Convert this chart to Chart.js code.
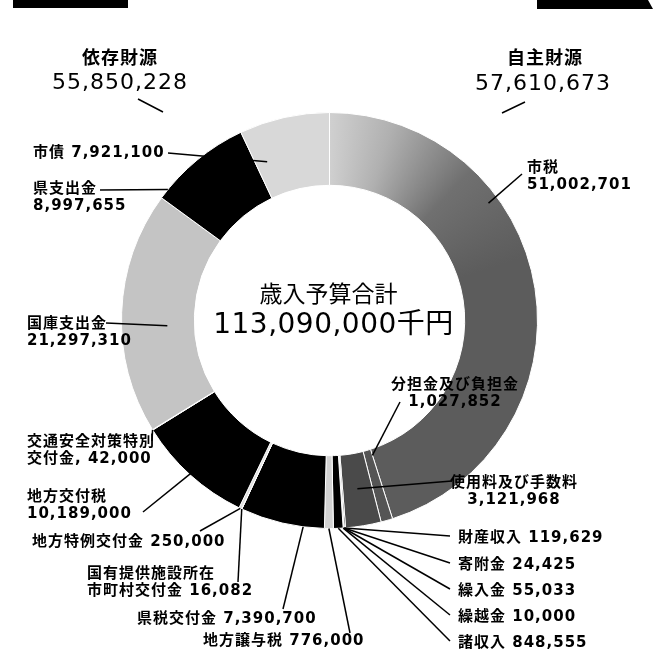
<!DOCTYPE html>
<html lang="ja">
<head>
<meta charset="UTF-8">
<title>歳入予算</title>
<style>
  html, body { margin: 0; padding: 0; background: #fff; }
  #wrap { width: 661px; height: 663px; }
</style>
</head>
<body>
<div id="wrap"><canvas id="budget-chart" width="661" height="663"></canvas></div>
<script src="https://cdn.jsdelivr.net/npm/chart.js@4.4.1/dist/chart.umd.min.js"></script>
<script>
// 歳入予算の内訳（千円）、時計回りに上から
var itemNames = ['市税', '分担金及び負担金', '使用料及び手数料', '財産収入', '寄附金', '繰入金', '繰越金', '諸収入',
    '地方譲与税', '県税交付金', '国有提供施設所在\n市町村交付金', '地方特例交付金', '地方交付税',
    '交通安全対策特別\n交付金,', '国庫支出金', '県支出金', '市債'];
var itemValues = [51002701, 1027852, 3121968, 119629, 24425, 55033, 10000, 848555,
    776000, 7390700, 16082, 250000, 10189000,
    42000, 21297310, 8997655, 7921100];

var groupNames = ['依存財源', '自主財源'];
var groupTotals = [55850228, 57610673];

var totalTitle = '歳入予算合計';
var totalValue = 113090000;
var totalUnit = '千円';

// fills (scan greys)
var itemColors = [null, '#555555', '#4a4a4a', '#000', '#000', '#000', '#000', '#000',
    '#d2d2d2', '#000', '#e0e0e0', '#e0e0e0', '#000',
    '#e0e0e0', '#c4c4c4', '#000', '#d8d8d8'];

// label placement: text anchor, leader line start, where on the slice it points (f = along arc, rf = radius factor)
var labelPos = [
    {x: 527, y: 168, align: 'left', br: true, from: [522, 174], f: 0.33, rf: 0.95},
    {x: 455, y: 385, align: 'center', br: true, from: [400, 402], f: 0.0, rf: 0.68},
    {x: 514, y: 483, align: 'center', br: true, from: [452, 481], f: 0.5, rf: 0.82},
    {x: 458, y: 538, align: 'left', br: false, from: [450, 536], f: 0.5, rf: 1},
    {x: 458, y: 565, align: 'left', br: false, from: [450, 563], f: 0.5, rf: 1},
    {x: 458, y: 591, align: 'left', br: false, from: [450, 589], f: 0.5, rf: 1},
    {x: 458, y: 617, align: 'left', br: false, from: [450, 615], f: 0.5, rf: 1},
    {x: 458, y: 643, align: 'left', br: false, from: [450, 641], f: 0.5, rf: 1},
    {x: 203, y: 641, align: 'left', br: false, from: [350, 633], f: 0.5, rf: 1},
    {x: 137, y: 619, align: 'left', br: false, from: [283, 609], f: 0.25, rf: 1},
    {x: 87, y: 574, align: 'left', br: false, from: [238, 582], f: 0.5, rf: 1},
    {x: 32, y: 542, align: 'left', br: false, from: [200, 531], f: 0.5, rf: 1},
    {x: 27, y: 497, align: 'left', br: true, from: [143, 512], f: 0.5, rf: 0.97},
    {x: 27, y: 442, align: 'left', br: false, from: [152, 441], f: 0.5, rf: 1},
    {x: 27, y: 324, align: 'left', br: true, from: [106, 323], f: 0.44, rf: 0.78},
    {x: 33, y: 189, align: 'left', br: true, from: [100, 190], f: 0.1, rf: 1},
    {x: 33, y: 153, align: 'left', br: false, from: [168, 153], f: 0.15, rf: 0.82}
];

function fmt(v) { return v.toLocaleString('en-US'); }

function shizeiFill(c) {
    var ch = c.chart, a = ch.chartArea;
    if (!a) return '#777';
    var cx = (a.left + a.right) / 2, cy = (a.top + a.bottom) / 2;
    var g = ch.ctx.createConicGradient(-Math.PI / 2, cx, cy);
    g.addColorStop(0, '#d0d0d0');
    g.addColorStop(0.05, '#b0b0b0');
    g.addColorStop(0.12, '#707070');
    g.addColorStop(0.2, '#5c5c5c');
    g.addColorStop(1, '#5c5c5c');
    return g;
}

var labelFont = 'bold 15px "DejaVu Sans", "Noto Sans CJK JP"';

var annotate = {
    id: 'annotate',
    afterDatasetsDraw: function (chart) {
        var ctx = chart.ctx;
        var meta = chart.getDatasetMeta(0);
        ctx.save();

        // header bars from the page scan
        ctx.fillStyle = '#000';
        ctx.fillRect(13, 0, 115, 8);
        ctx.beginPath();
        ctx.moveTo(537, 0); ctx.lineTo(648, 0); ctx.lineTo(653, 9); ctx.lineTo(537, 9);
        ctx.closePath(); ctx.fill();

        // leader lines
        ctx.strokeStyle = '#000';
        ctx.lineWidth = 1.5;
        meta.data.forEach(function (arc, i) {
            var p = arc.getProps(['x', 'y', 'startAngle', 'endAngle', 'outerRadius'], true);
            var L = labelPos[i];
            var ang = p.startAngle + L.f * (p.endAngle - p.startAngle);
            var r = p.outerRadius * L.rf;
            ctx.beginPath();
            ctx.moveTo(L.from[0], L.from[1]);
            ctx.lineTo(p.x + r * Math.cos(ang), p.y + r * Math.sin(ang));
            ctx.stroke();
        });

        // labels
        ctx.fillStyle = '#000';
        ctx.font = labelFont;
        ctx.letterSpacing = '1px';
        ctx.textBaseline = 'middle';
        itemNames.forEach(function (name, i) {
            var L = labelPos[i];
            var lines = name.split('\n');
            if (L.br) lines.push(fmt(itemValues[i]));
            else lines[lines.length - 1] += ' ' + fmt(itemValues[i]);
            ctx.textAlign = L.align;
            lines.forEach(function (t, k) {
                ctx.fillText(t, L.x, L.y + k * 17);
            });
        });

        // group headings
        ctx.textAlign = 'center';
        ctx.font = 'bold 18px "Noto Sans CJK JP"';
        ctx.fillText(groupNames[0], 120, 57);
        ctx.fillText(groupNames[1], 545, 57);
        ctx.font = '22px "DejaVu Sans", "Noto Sans CJK JP"';
        ctx.fillText(fmt(groupTotals[0]), 120, 83);
        ctx.fillText(fmt(groupTotals[1]), 543, 84);
        ctx.beginPath();
        ctx.moveTo(138, 99); ctx.lineTo(163, 112);
        ctx.moveTo(525, 102); ctx.lineTo(502, 113);
        ctx.stroke();

        // centre total
        var c = meta.data[0];
        ctx.letterSpacing = '0px';
        ctx.font = '23px "Noto Sans CJK JP"';
        ctx.fillText(totalTitle, c.x - 1, c.y - 27);
        ctx.letterSpacing = '0.5px';
        ctx.font = '28px "DejaVu Sans", "Noto Sans CJK JP"';
        ctx.fillText(fmt(totalValue) + totalUnit, c.x + 4, c.y + 5);
        ctx.restore();
    }
};

new Chart(document.getElementById('budget-chart'), {
    type: 'doughnut',
    data: {
        labels: itemNames,
        datasets: [{
            data: itemValues,
            backgroundColor: function (c) {
                return c.dataIndex === 0 ? shizeiFill(c) : itemColors[c.dataIndex];
            },
            borderColor: '#fff',
            borderWidth: 1
        }]
    },
    options: {
        responsive: false,
        animation: false,
        cutout: '65%',
        layout: {padding: {left: 121, right: 123, top: 112, bottom: 134}},
        plugins: {
            legend: {display: false},
            tooltip: {enabled: false}
        },
        events: []
    },
    plugins: [annotate]
});
</script>
</body>
</html>
